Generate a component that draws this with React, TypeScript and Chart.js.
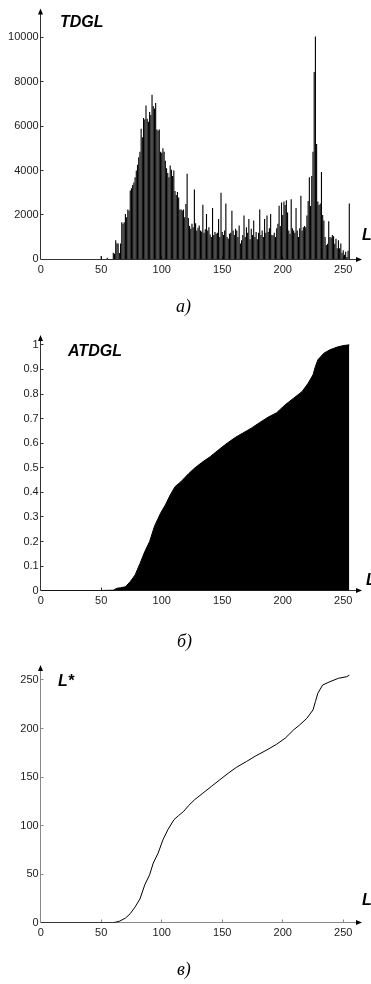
import React, { useEffect, useRef } from "react";
import { Chart, registerables } from "chart.js";

Chart.register(...registerables);

// ---------- data ----------
const L_TICKS = [0, 50, 100, 150, 200, 250];

const TDGL_TICKS = [0, 2000, 4000, 6000, 8000, 10000];
const TDGL_TICK_LABELS = ["0", "2000", "4000", "6000", "8000", "10000"];

// histogram counts for grey levels L = 0..255
const TDGL_COUNTS = [
  0, 0, 0, 0, 0, 0, 0, 0, 0, 0,
  0, 0, 0, 0, 0, 0, 0, 0, 0, 0,
  0, 0, 0, 0, 0, 0, 0, 0, 0, 0,
  0, 0, 0, 0, 0, 0, 0, 0, 0, 0,
  0, 0, 0, 0, 0, 0, 0, 0, 0, 0,
  150, 0, 0, 0, 0, 70, 0, 0, 0, 0,
  300, 250, 860, 720, 710, 280, 710, 1670, 1600, 1670,
  2040, 1900, 2240, 2200, 3100, 3200, 3350, 3460, 3700, 4000,
  4260, 4600, 4850, 5890, 5500, 6370, 6300, 6930, 6330, 6200,
  6640, 6500, 7420, 6910, 6800, 7040, 5850, 5800, 5850, 4850,
  4800, 5000, 4850, 4440, 4100, 3890, 3700, 4230, 4040, 3750,
  4000, 3080, 2900, 3030, 2780, 2250, 2250, 2200, 2250, 1900,
  2490, 3860, 1860, 1500, 1380, 1600, 1450, 3150, 1630, 1300,
  1420, 1520, 1300, 1250, 2460, 1200, 1350, 2040, 1300, 1450,
  1120, 1000, 2310, 1100, 1230, 1150, 1200, 1820, 1000, 3000,
  1230, 1100, 1300, 2520, 1000, 930, 1150, 1200, 2190, 1300,
  1100, 1380, 1300, 1000, 1520, 710, 860, 1100, 1970, 1000,
  1450, 1200, 1820, 900, 1380, 1100, 1750, 1000, 1230, 900,
  1200, 2240, 1100, 1300, 1000, 1820, 1200, 1970, 1230, 1400,
  2040, 1100, 1080, 1200, 1000, 1400, 1600, 2410, 1500, 2560,
  2000, 2600, 2450, 2660, 2110, 1300, 1150, 2710, 1400, 1300,
  1200, 2310, 1300, 1000, 1400, 2860, 1300, 1450, 1500, 1450,
  1970, 2630, 3700, 2400, 3750, 4850, 8440, 10040, 5200, 2600,
  2450, 2520, 3940, 2000, 1750, 1000, 640, 700, 1720, 1000,
  980, 1100, 1040, 700, 930, 500, 860, 500, 710, 300,
  410, 200, 340, 100, 380, 2520,
];

const ATDGL_TICKS = [0, 0.1, 0.2, 0.3, 0.4, 0.5, 0.6, 0.7, 0.8, 0.9, 1];
const ATDGL_TICK_LABELS = ["0", "0.1", "0.2", "0.3", "0.4", "0.5", "0.6", "0.7", "0.8", "0.9", "1"];

const ATDGL_L = [
  0, 50, 51, 60, 63, 66, 70, 74, 78, 82, 86, 90, 94, 99, 103, 107, 111, 116, 122, 127,
  133, 140, 147, 154, 161, 167, 174, 181, 188, 195, 202, 209, 216, 221, 225, 227, 229, 234,
  239, 245, 250, 255,
];
const ATDGL_VALUES = [
  0, 0, 0.001, 0.002, 0.01, 0.012, 0.016, 0.037, 0.064, 0.11, 0.159, 0.2, 0.262, 0.315,
  0.349, 0.389, 0.423, 0.444, 0.475, 0.498, 0.521, 0.545, 0.573, 0.6, 0.624, 0.641, 0.661,
  0.684, 0.706, 0.724, 0.756, 0.783, 0.81, 0.844, 0.878, 0.912, 0.939, 0.966, 0.98, 0.991,
  0.997, 1.0,
];

const LSTAR_TICKS = [0, 50, 100, 150, 200, 250];
const LSTAR_TICK_LABELS = ["0", "50", "100", "150", "200", "250"];

const LSTAR_L = [
  0, 60, 65, 70, 74, 78, 82, 86, 90, 93, 97, 101, 105, 110, 114, 118, 122, 127, 134, 141,
  148, 155, 162, 170, 178, 187, 195, 202, 209, 214, 220, 225, 227, 229, 233, 239, 246, 253,
  255,
];
const LSTAR_VALUES = [
  0, 0, 1.5, 4.7, 9.3, 16.2, 24.4, 39, 49.3, 61.4, 71.6, 85.3, 95.6, 105.9, 110.4, 114.5,
  120.3, 126.5, 133.4, 140.3, 147.2, 154, 160.2, 166, 172, 178, 183.8, 190, 198.6, 203.7,
  210.6, 219.1, 227.7, 236.3, 244.8, 248.2, 251.7, 253.4, 255,
];

// ---------- drawing helpers ----------
const arrowAxes = {
  id: "arrowAxes",
  beforeDatasetsDraw(chart: any, _args: any, opts: any) {
    const { ctx, chartArea } = chart;
    const xs = chart.scales.x;
    const ys = chart.scales.y;
    const x0 = Math.floor(xs.getPixelForValue(0)) + 0.5;
    const y0 = Math.floor(ys.getPixelForValue(0)) + 0.5;
    ctx.save();
    ctx.lineWidth = 1;
    ctx.strokeStyle = opts.color;
    ctx.beginPath();
    ctx.moveTo(x0, y0);
    ctx.lineTo(chartArea.right - 4, y0);
    ctx.moveTo(x0, y0);
    ctx.lineTo(x0, chartArea.top + 4);
    // inward ticks
    for (const v of L_TICKS) {
      if (v === 0) continue;
      const px = Math.floor(xs.getPixelForValue(v)) + 0.5;
      ctx.moveTo(px, y0);
      ctx.lineTo(px, y0 - 3);
    }
    for (const v of opts.yTicks as number[]) {
      if (v === 0) continue;
      const py = Math.floor(ys.getPixelForValue(v)) + 0.5;
      ctx.moveTo(x0, py);
      ctx.lineTo(x0 + 3, py);
    }
    ctx.stroke();
    ctx.fillStyle = "#000";
    ctx.beginPath();
    ctx.moveTo(chartArea.right, y0);
    ctx.lineTo(chartArea.right - 6, y0 - 2.5);
    ctx.lineTo(chartArea.right - 6, y0 + 2.5);
    ctx.closePath();
    ctx.fill();
    ctx.beginPath();
    ctx.moveTo(x0, chartArea.top);
    ctx.lineTo(x0 - 2.5, chartArea.top + 6);
    ctx.lineTo(x0 + 2.5, chartArea.top + 6);
    ctx.closePath();
    ctx.fill();
    ctx.restore();
  },
};

type Kind = "hist" | "area" | "line";

type PanelProps = {
  kind: Kind;
  top: number;
  height: number;
  padTop: number;
  xHeight: number;
  yMax: number;
  yTicks: number[];
  yLabels: string[];
  axisColor: string;
};

const TICK_FONT = { family: "'Liberation Sans', Arial, sans-serif", size: 11 };

function Panel(p: PanelProps) {
  const ref = useRef<HTMLCanvasElement | null>(null);
  useEffect(() => {
    if (!ref.current) return;
    let datasets: any[] = [];
    let type: any = "line";
    if (p.kind === "hist") {
      type = "bar";
      datasets = [
        {
          data: TDGL_COUNTS.map((v, i) => ({ x: i, y: v })),
          backgroundColor: "#000",
          borderWidth: 0,
          barPercentage: 0.92,
          categoryPercentage: 1,
        },
      ];
    } else if (p.kind === "area") {
      datasets = [
        {
          data: ATDGL_L.map((l, i) => ({ x: l, y: ATDGL_VALUES[i] })),
          borderColor: "#000",
          backgroundColor: "#000",
          borderWidth: 1,
          fill: "origin",
          pointRadius: 0,
          tension: 0,
        },
      ];
    } else {
      datasets = [
        {
          data: LSTAR_L.map((l, i) => ({ x: l, y: LSTAR_VALUES[i] })),
          borderColor: "#000",
          borderWidth: 1,
          fill: false,
          pointRadius: 0,
          tension: 0,
        },
      ];
    }
    const labelMap = new Map<number, string>();
    p.yTicks.forEach((v, i) => labelMap.set(v, p.yLabels[i]));
    const chart = new Chart(ref.current, {
      type,
      data: { datasets },
      options: {
        responsive: false,
        maintainAspectRatio: false,
        animation: false,
        events: [],
        layout: { padding: { top: p.padTop, right: 9, left: 0, bottom: 0 } },
        plugins: {
          legend: { display: false },
          tooltip: { enabled: false },
          title: { display: false },
          arrowAxes: { color: p.axisColor, yTicks: p.yTicks },
        } as any,
        scales: {
          x: {
            type: "linear",
            min: 0,
            max: 265.5,
            offset: false,
            grid: { display: false, drawTicks: false, tickLength: 0 },
            border: { display: false },
            ticks: {
              font: TICK_FONT,
              color: "#222",
              padding: 4,
              maxRotation: 0,
              autoSkip: false,
              callback: (v: any) => String(v),
            },
            afterBuildTicks: (s: any) => {
              s.ticks = L_TICKS.map((v) => ({ value: v }));
            },
            afterFit: (s: any) => {
              s.height = p.xHeight;
            },
          },
          y: {
            type: "linear",
            min: 0,
            max: p.yMax,
            grid: { display: false, drawTicks: false, tickLength: 0 },
            border: { display: false },
            ticks: {
              font: TICK_FONT,
              color: "#222",
              padding: 2,
              autoSkip: false,
              callback: (v: any) => labelMap.get(v) ?? "",
            },
            afterBuildTicks: (s: any) => {
              s.ticks = p.yTicks.map((v) => ({ value: v }));
            },
            afterFit: (s: any) => {
              s.width = 40.7;
            },
          },
        },
      } as any,
      plugins: [arrowAxes as any],
    });
    return () => chart.destroy();
  }, []);
  return (
    <canvas
      ref={ref}
      width={371}
      height={p.height}
      style={{ position: "absolute", left: 0, top: p.top, width: 371, height: p.height }}
    />
  );
}

const titleStyle = (left: number, top: number): React.CSSProperties => ({
  position: "absolute",
  left,
  top,
  font: "italic bold 16px 'Liberation Sans', Arial, sans-serif",
  lineHeight: "16px",
  color: "#000",
  whiteSpace: "nowrap",
});

const captionStyle = (left: number, top: number): React.CSSProperties => ({
  position: "absolute",
  left,
  top,
  font: "italic 18px 'Liberation Serif', 'Times New Roman', serif",
  lineHeight: "18px",
  color: "#000",
  whiteSpace: "nowrap",
});

export default function App() {
  return (
    <div
      style={{
        position: "absolute",
        left: 0,
        top: 0,
        width: 371,
        height: 984,
        overflow: "hidden",
        background: "#fff",
      }}
    >
      <Panel
        kind="hist"
        top={0}
        height={285}
        padTop={5}
        xHeight={25.7}
        yMax={11300}
        yTicks={TDGL_TICKS}
        yLabels={TDGL_TICK_LABELS}
        axisColor="#333"
      />
      <Panel
        kind="area"
        top={320}
        height={300}
        padTop={15}
        xHeight={29.3}
        yMax={1.04}
        yTicks={ATDGL_TICKS}
        yLabels={ATDGL_TICK_LABELS}
        axisColor="#333"
      />
      <Panel
        kind="line"
        top={650}
        height={300}
        padTop={15}
        xHeight={27.3}
        yMax={265.4}
        yTicks={LSTAR_TICKS}
        yLabels={LSTAR_TICK_LABELS}
        axisColor="#888"
      />

      <div style={titleStyle(60, 14)}>TDGL</div>
      <div style={titleStyle(68, 342.5)}>ATDGL</div>
      <div style={titleStyle(58, 673)}>L*</div>

      <div style={titleStyle(362, 226.5)}>L</div>
      <div style={titleStyle(366, 571.5)}>L</div>
      <div style={titleStyle(362, 891.5)}>L</div>

      <div style={captionStyle(176, 297)}>а)</div>
      <div style={captionStyle(177, 632)}>б)</div>
      <div style={captionStyle(177, 960)}>в)</div>
    </div>
  );
}
